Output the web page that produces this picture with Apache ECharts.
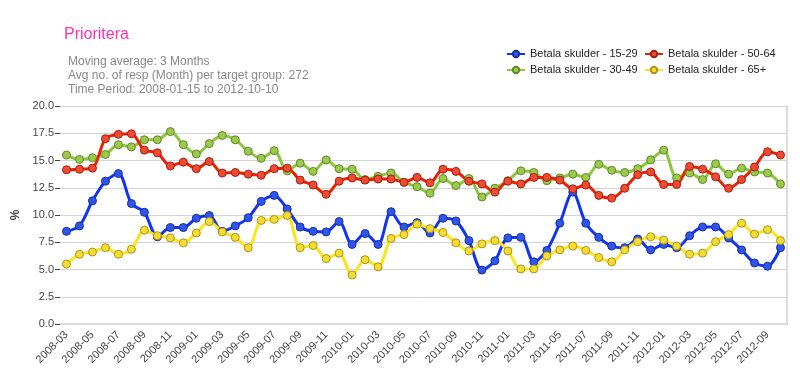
<!DOCTYPE html>
<html>
<head>
<meta charset="utf-8">
<script src="https://cdn.jsdelivr.net/npm/echarts@6/dist/echarts.min.js"></script>
<style>
	html, body { margin: 0; padding: 0; background: #fff; }
	#chart { width: 800px; height: 375px; }
</style>
</head>
<body>
<div id="chart"></div>
<script>
// months (x categories)
const months = [
	'2008-03', '2008-04', '2008-05', '2008-06', '2008-07', '2008-08', '2008-09', '2008-10', '2008-11', '2008-12',
	'2009-01', '2009-02', '2009-03', '2009-04', '2009-05', '2009-06', '2009-07', '2009-08', '2009-09', '2009-10', '2009-11', '2009-12',
	'2010-01', '2010-02', '2010-03', '2010-04', '2010-05', '2010-06', '2010-07', '2010-08', '2010-09', '2010-10', '2010-11', '2010-12',
	'2011-01', '2011-02', '2011-03', '2011-04', '2011-05', '2011-06', '2011-07', '2011-08', '2011-09', '2011-10', '2011-11', '2011-12',
	'2012-01', '2012-02', '2012-03', '2012-04', '2012-05', '2012-06', '2012-07', '2012-08', '2012-09', '2012-10'
]

// % per age group
const group1529 = [
	8.5, 9.0, 11.3, 13.1, 13.8, 11.05, 10.25, 8.0, 8.85, 8.85, 9.7, 9.95,
	8.5, 9.0, 9.75, 11.25, 11.8, 10.55, 8.9, 8.5, 8.45, 9.4, 7.3, 8.3,
	7.3, 10.3, 8.9, 9.3, 8.35, 9.7, 9.45, 7.65, 4.95, 5.8, 7.9, 7.95,
	5.7, 6.75, 9.25, 12.1, 9.25, 7.95, 7.15, 7.0, 7.8, 6.8, 7.3, 7.0,
	8.1, 8.9, 8.9, 7.9, 6.8, 5.6, 5.3, 7.0
]
const group3049 = [
	15.5, 15.1, 15.25, 15.55, 16.45, 16.25, 16.9, 16.9, 17.65, 16.45, 15.6, 16.55,
	17.3, 16.9, 15.85, 15.2, 15.9, 14.05, 14.75, 14.0, 15.05, 14.25, 14.2, 13.25,
	13.55, 13.85, 13.0, 12.6, 12.0, 13.35, 12.7, 13.35, 11.65, 12.45, 13.15, 14.05,
	13.9, 13.15, 13.4, 13.75, 13.45, 14.65, 14.1, 13.9, 14.25, 15.05, 15.95, 13.4,
	13.85, 13.25, 14.7, 13.75, 14.3, 13.95, 13.85, 12.85
]
const group5064 = [
	14.15, 14.2, 14.3, 17.0, 17.4, 17.45, 15.95, 15.7, 14.5, 14.85, 14.25, 14.9,
	13.85, 13.9, 13.75, 13.65, 14.25, 14.3, 13.2, 12.75, 11.9, 13.1, 13.4, 13.2,
	13.3, 13.3, 13.0, 13.45, 12.95, 14.2, 14.0, 13.1, 12.85, 12.1, 13.1, 12.85,
	13.45, 13.45, 13.2, 12.4, 12.75, 11.8, 11.55, 12.45, 13.7, 13.95, 12.8, 12.8,
	14.45, 14.2, 13.5, 12.45, 13.25, 14.4, 15.8, 15.5
]
const group65 = [
	5.5, 6.4, 6.6, 7.0, 6.4, 6.85, 8.6, 8.1, 7.9, 7.45, 8.35, 9.4,
	8.45, 7.95, 7.0, 9.5, 9.6, 9.95, 7.0, 7.2, 6.0, 6.5, 4.5, 5.9,
	5.25, 7.85, 8.2, 9.15, 8.75, 8.4, 7.45, 6.7, 7.35, 7.65, 6.7, 5.05,
	5.05, 6.25, 6.8, 7.15, 6.75, 6.1, 5.7, 6.8, 7.55, 8.0, 7.7, 7.15,
	6.4, 6.5, 7.55, 8.2, 9.25, 8.25, 8.65, 7.65
]

const names = ['Betala skulder - 15-29', 'Betala skulder - 30-49', 'Betala skulder - 50-64', 'Betala skulder - 65+']
const yTicks = [0, 2.5, 5, 7.5, 10, 12.5, 15, 17.5, 20]

const font = 'Liberation Sans, Arial, sans-serif'

const makeSeries = (name, data, line, fill, border) => ({
	name,
	type: 'line',
	data,
	smooth: 0.3,
	symbol: 'circle',
	symbolSize: 8,
	lineStyle: { color: line, width: 3 },
	itemStyle: { color: fill, borderColor: border, borderWidth: 1 }
})

const chart = echarts.init(document.getElementById('chart'))

const option = {
	animation: false,
	backgroundColor: '#fff',
	textStyle: { fontFamily: font },
	title: [
		{
			text: 'Prioritera',
			left: 64,
			top: 27,
			padding: 0,
			textStyle: { color: '#ff33aa', fontSize: 16, fontWeight: 'normal', fontFamily: font }
		},
		{
			text: 'Moving average: 3 Months\nAvg no. of resp (Month) per target group: 272\nTime Period: 2008-01-15 to 2012-10-10',
			left: 68,
			top: 55,
			padding: 0,
			textStyle: { color: '#888', fontSize: 12, fontWeight: 'normal', lineHeight: 14, fontFamily: font }
		}
	],
	legend: [
		{
			data: [names[0], names[1]],
			orient: 'vertical',
			left: 506,
			top: 47,
			padding: 0,
			itemGap: 2,
			itemWidth: 18,
			itemHeight: 8,
			textStyle: { fontSize: 11, color: '#222', lineHeight: 14, fontFamily: font }
		},
		{
			data: [names[2], names[3]],
			orient: 'vertical',
			left: 644,
			top: 47,
			padding: 0,
			itemGap: 2,
			itemWidth: 18,
			itemHeight: 8,
			textStyle: { fontSize: 11, color: '#222', lineHeight: 14, fontFamily: font }
		}
	],
	grid: { left: 60, right: 13, top: 106, bottom: 51 },
	xAxis: [
		{
			type: 'category',
			data: months,
			boundaryGap: true,
			axisLine: { lineStyle: { color: '#000', width: 1 } },
			axisTick: { alignWithLabel: true, interval: 1, length: 5, lineStyle: { color: '#000' } },
			axisLabel: { interval: 1, rotate: 45, fontSize: 11, color: '#444', margin: 9, fontFamily: font }
		},
		{
			type: 'category',
			data: months,
			position: 'top',
			axisLine: { lineStyle: { color: '#dcdcdc', width: 2 } },
			axisTick: { show: false },
			axisLabel: { show: false }
		}
	],
	yAxis: [
		{
			type: 'value',
			min: yTicks[0],
			max: yTicks[yTicks.length - 1],
			interval: 2.5,
			name: '%',
			nameLocation: 'middle',
			nameGap: 36,
			nameTextStyle: { fontSize: 12, fontWeight: 'bold', color: '#444', fontFamily: font },
			axisLine: { show: false },
			axisTick: { show: true, length: 5, lineStyle: { color: '#444' } },
			axisLabel: { formatter: (v) => v.toFixed(1), fontSize: 11, color: '#444', margin: 6, fontFamily: font },
			splitLine: { lineStyle: { color: '#d4d4d4', width: 1 } }
		},
		{
			type: 'value',
			min: yTicks[0],
			max: yTicks[yTicks.length - 1],
			interval: 2.5,
			position: 'right',
			axisLine: { show: true, lineStyle: { color: '#dcdcdc', width: 2 } },
			axisTick: { show: false },
			axisLabel: { show: false },
			splitLine: { show: false }
		}
	],
	series: [
		makeSeries(names[0], group1529, '#1034f4', '#2f56ea', '#1a2f9a'),
		makeSeries(names[1], group3049, '#8cc63e', '#9cc84c', '#5d8a25'),
		makeSeries(names[2], group5064, '#f01e00', '#f04a32', '#a02010'),
		makeSeries(names[3], group65, '#ffe31a', '#f5dc30', '#a89420')
	]
}

chart.setOption(option)
</script>
</body>
</html>
